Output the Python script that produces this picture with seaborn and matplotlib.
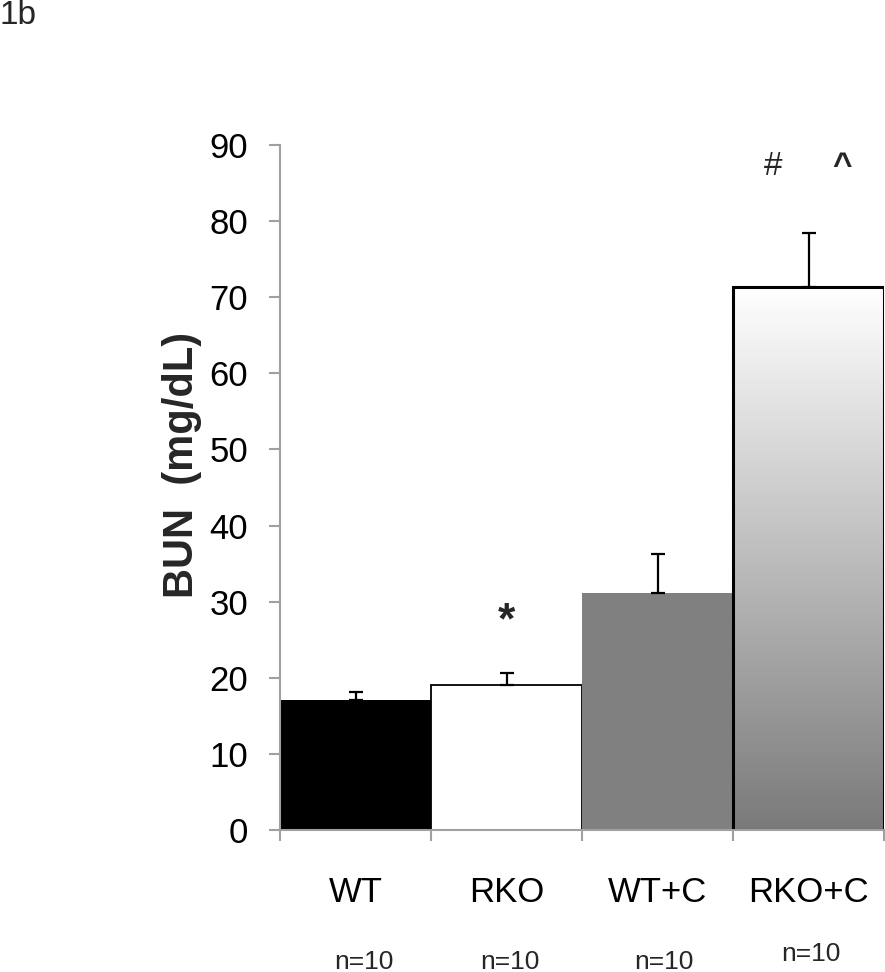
import numpy as np
import matplotlib
matplotlib.use("Agg")
import matplotlib.pyplot as plt
import seaborn as sns
from matplotlib.colors import LinearSegmentedColormap

# ---- data ----
categories = ["WT", "RKO", "WT+C", "RKO+C"]
bun_mean = [17.1, 19.1, 31.2, 71.3]
bun_err = [1.0, 1.5, 5.1, 7.1]
n_labels = ["n=10", "n=10", "n=10", "n=10"]
y_ticks = [0, 10, 20, 30, 40, 50, 60, 70, 80, 90]

sns.set_theme(style="white")
plt.rcParams['font.family'] = ['Liberation Sans', 'DejaVu Sans']

W, H = 885, 972
fig = plt.figure(figsize=(W / 100, H / 100), dpi=100)
fig.patch.set_facecolor("white")
ax = fig.add_axes([280 / W, 1 - 830 / H, 604 / W, 685 / H])
ax.set_facecolor("white")

face_colors = ["#000000", "#ffffff", "#808080", "#ffffff"]
sns.barplot(x=categories, y=bun_mean, hue=categories, palette=face_colors,
            saturation=1, width=1.0, legend=False, ax=ax, errorbar=None,
            order=categories, hue_order=categories)

bars = sorted(ax.patches, key=lambda p: p.get_x())
edge_specs = [("none", 0), ("black", 1.3), ("none", 0), ("black", 2.2)]
for p, (ec, lw) in zip(bars, edge_specs):
    p.set_edgecolor(ec)
    p.set_linewidth(lw)
    p.set_zorder(2)

# gradient fill for last bar
gb = bars[3]
gx0, gw, gh = gb.get_x(), gb.get_width(), gb.get_height()
gb.set_facecolor("none")
cmap = LinearSegmentedColormap.from_list("g", ["#7a7a7a", "#ffffff"])
grad = np.linspace(1, 0, 256).reshape(-1, 1)
im = ax.imshow(grad, extent=[gx0, gx0 + gw, 0, gh], aspect="auto",
               cmap=cmap, vmin=0, vmax=1, zorder=1.5, origin="upper")
im.set_clip_path(gb)

# error bars (upper only)
xs = np.arange(len(categories))
ax.errorbar(xs, bun_mean, yerr=[np.zeros(len(bun_err)), bun_err], fmt="none",
            ecolor="black", elinewidth=1.6, capsize=5, capthick=1.6, zorder=3)

ax.set_xlim(-0.5, 3.5)
ax.set_ylim(0, 90)
ax.set_yticks(y_ticks)
ax.set_yticklabels([str(t) for t in y_ticks], fontsize=25, color="black")
ax.set_xticks(xs)
ax.set_xticklabels(categories, fontsize=25, color="black")
ax.set_xticks(np.arange(-0.5, 4.0, 1.0), minor=True)
ax.tick_params(axis="x", which="major", length=0, pad=33)
ax.tick_params(axis="x", which="minor", length=8, width=1.5, color="#a0a0a0",
               direction="out", bottom=True)
ax.tick_params(axis="y", which="major", length=8, width=1.5, color="#a0a0a0",
               direction="out", left=True, pad=15)

for s in ["top", "right"]:
    ax.spines[s].set_visible(False)
for s in ["left", "bottom"]:
    ax.spines[s].set_color("#a0a0a0")
    ax.spines[s].set_linewidth(1.5)
ax.set_xlabel("")
ax.set_ylabel("")

# y label
fig.text(182 / W, 1 - 465 / H, "BUN  (mg/dL)", rotation=90, fontsize=30,
         fontweight="bold", ha="center", va="center")

# significance marks
ax.text(1.0, 27.3, "*", fontsize=32, fontweight="bold", ha="center", va="center")
ax.text(2.765, 87.2, "#", fontsize=24, ha="center", va="center")
ax.text(3.22, 87.2, "^", fontsize=24, fontweight="bold", ha="center", va="center")

# n labels
n_pos = [(364, 962), (510, 962), (664, 962), (811, 954)]
for lab, (px, py) in zip(n_labels, n_pos):
    fig.text(px / W, 1 - py / H, lab, fontsize=19, ha="center", va="center")

fig.text(0.0, 1 - 16 / H, "1b", fontsize=24, ha="left", va="center")

fig.savefig("out.png", dpi=100, facecolor="white")
